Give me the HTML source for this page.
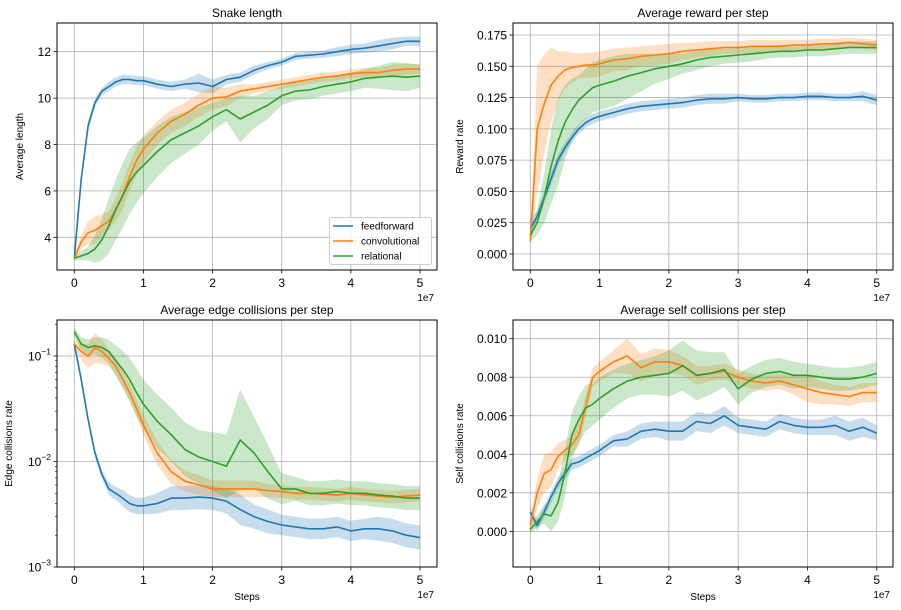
<!DOCTYPE html>
<html><head><meta charset="utf-8"><style>
body{margin:0;background:#fff;}
svg{display:block;font-family:"Liberation Sans","DejaVu Sans",sans-serif;}
</style></head><body>
<svg id="fig" width="901" height="610" viewBox="0 0 901 610"></svg>
<script>
const steps = [0,1,2,3,4,5,6,7,8,9,10,12,14,16,18,20,22,24,26,28,30,32,34,36,38,40,42,44,46,48,50];
const seriesNames = ["feedforward","convolutional","relational"];
const lenFF = [3.1,6.5,8.8,9.8,10.3,10.5,10.7,10.8,10.8,10.75,10.75,10.6,10.5,10.6,10.65,10.5,10.8,10.9,11.2,11.4,11.55,11.8,11.85,11.9,12.0,12.1,12.15,12.25,12.35,12.45,12.45];
const lenFFBand = [0.05,0.2,0.2,0.2,0.15,0.2,0.2,0.2,0.2,0.2,0.2,0.2,0.2,0.2,0.4,0.3,0.2,0.2,0.2,0.15,0.15,0.15,0.15,0.15,0.2,0.2,0.2,0.25,0.25,0.2,0.2];
const lenConv = [3.1,3.8,4.2,4.3,4.5,4.7,5.2,5.8,6.6,7.3,7.8,8.5,9.0,9.3,9.7,10.0,10.05,10.3,10.4,10.5,10.6,10.7,10.8,10.9,10.95,11.05,11.1,11.1,11.2,11.25,11.25];
const lenConvBand = [0.1,0.3,0.5,0.6,0.5,0.4,0.5,0.6,0.6,0.6,0.6,0.5,0.5,0.5,0.5,0.5,0.4,0.3,0.2,0.2,0.2,0.2,0.2,0.2,0.2,0.2,0.2,0.2,0.25,0.25,0.2];
const lenRel = [3.1,3.2,3.3,3.5,3.9,4.5,5.2,5.8,6.4,6.8,7.1,7.7,8.2,8.5,8.8,9.2,9.5,9.1,9.4,9.7,10.1,10.3,10.35,10.5,10.6,10.7,10.85,10.9,10.95,10.9,10.95];
const lenRelBand = [0.1,0.2,0.3,0.6,0.9,1.2,1.3,1.4,1.4,1.3,1.2,1.1,1.0,0.9,0.8,0.6,0.5,1.0,0.7,0.6,0.4,0.4,0.4,0.4,0.4,0.4,0.4,0.5,0.6,0.6,0.5];
const rewFF = [0.02,0.03,0.045,0.06,0.075,0.085,0.093,0.1,0.105,0.108,0.11,0.113,0.116,0.118,0.119,0.12,0.121,0.123,0.124,0.124,0.125,0.124,0.124,0.125,0.125,0.126,0.126,0.125,0.125,0.126,0.123];
const rewFFBand = [0.008,0.005,0.005,0.005,0.005,0.004,0.004,0.004,0.004,0.004,0.004,0.004,0.004,0.004,0.004,0.004,0.004,0.004,0.004,0.004,0.003,0.003,0.003,0.003,0.003,0.003,0.003,0.003,0.003,0.004,0.004];
const rewConv = [0.01,0.1,0.12,0.135,0.142,0.147,0.149,0.15,0.151,0.151,0.152,0.155,0.156,0.158,0.159,0.16,0.162,0.163,0.164,0.165,0.165,0.166,0.166,0.166,0.167,0.167,0.168,0.168,0.169,0.168,0.167];
const rewConvBand = [0.005,0.05,0.04,0.03,0.02,0.015,0.012,0.01,0.01,0.01,0.01,0.009,0.009,0.008,0.008,0.008,0.007,0.006,0.006,0.005,0.005,0.005,0.005,0.005,0.004,0.004,0.004,0.004,0.004,0.004,0.004];
const rewRel = [0.015,0.025,0.045,0.07,0.09,0.105,0.115,0.123,0.128,0.133,0.135,0.138,0.142,0.145,0.148,0.15,0.152,0.155,0.157,0.158,0.159,0.16,0.161,0.162,0.162,0.163,0.163,0.164,0.165,0.165,0.165];
const rewRelBand = [0.005,0.01,0.02,0.03,0.035,0.03,0.025,0.02,0.02,0.02,0.02,0.02,0.018,0.015,0.012,0.01,0.008,0.008,0.007,0.006,0.006,0.006,0.005,0.005,0.005,0.005,0.005,0.005,0.005,0.005,0.005];
const edgeFF = [0.13,0.06,0.025,0.012,0.0075,0.0055,0.005,0.0045,0.004,0.0038,0.0038,0.004,0.0045,0.0045,0.0046,0.0045,0.0042,0.0035,0.003,0.0027,0.0025,0.0024,0.0023,0.0023,0.0024,0.0022,0.0023,0.0023,0.0022,0.002,0.0019];
const edgeFFBand = [1.1,1.1,1.1,1.1,1.1,1.15,1.15,1.2,1.2,1.2,1.2,1.25,1.3,1.3,1.3,1.3,1.3,1.4,1.3,1.3,1.25,1.25,1.25,1.25,1.25,1.25,1.25,1.3,1.3,1.3,1.3];
const edgeConv = [0.13,0.11,0.1,0.12,0.11,0.095,0.08,0.06,0.045,0.032,0.022,0.012,0.008,0.0065,0.006,0.0055,0.0055,0.0055,0.0055,0.0053,0.0052,0.005,0.005,0.0049,0.0048,0.005,0.0048,0.0047,0.0046,0.0047,0.0048];
const edgeConvBand = [1.1,1.2,1.3,1.4,1.3,1.2,1.2,1.2,1.2,1.2,1.25,1.3,1.3,1.25,1.25,1.2,1.2,1.2,1.2,1.15,1.15,1.15,1.15,1.15,1.15,1.15,1.15,1.15,1.15,1.15,1.15];
const edgeRel = [0.17,0.13,0.12,0.125,0.12,0.11,0.09,0.075,0.06,0.045,0.035,0.024,0.018,0.013,0.011,0.01,0.009,0.016,0.012,0.008,0.0055,0.0055,0.005,0.005,0.0052,0.005,0.005,0.0048,0.0047,0.0045,0.0045];
const edgeRelBand = [1.1,1.15,1.2,1.2,1.25,1.3,1.4,1.5,1.6,1.7,1.7,1.8,1.8,1.8,1.8,1.9,2.0,3.0,2.2,1.8,1.4,1.3,1.3,1.3,1.3,1.3,1.3,1.3,1.3,1.3,1.3];
const selfFF = [0.001,0.0003,0.001,0.0018,0.0025,0.003,0.0035,0.0036,0.0038,0.004,0.0042,0.0047,0.0048,0.0052,0.0053,0.0052,0.0052,0.0057,0.0056,0.006,0.0055,0.0054,0.0053,0.0057,0.0055,0.0054,0.0054,0.0055,0.0052,0.0054,0.0051];
const selfFFBand = [0.0003,0.0003,0.0003,0.0003,0.0003,0.0003,0.0003,0.0003,0.0003,0.0003,0.0003,0.0003,0.0004,0.0004,0.0004,0.0005,0.0005,0.0005,0.0005,0.0005,0.0004,0.0004,0.0004,0.0004,0.0004,0.0004,0.0004,0.0005,0.0005,0.0005,0.0004];
const selfConv = [0.0003,0.002,0.003,0.0032,0.0039,0.0042,0.0045,0.005,0.0065,0.008,0.0083,0.0088,0.0091,0.0085,0.0088,0.0088,0.0086,0.0081,0.0082,0.0083,0.008,0.0078,0.0077,0.0078,0.0076,0.0074,0.0072,0.0071,0.007,0.0072,0.0072];
const selfConvBand = [0.0003,0.0008,0.001,0.0009,0.0007,0.0005,0.0005,0.0006,0.0006,0.0005,0.0005,0.0006,0.0009,0.0007,0.0007,0.0006,0.0005,0.0005,0.0004,0.0004,0.0004,0.0004,0.0004,0.0004,0.0005,0.0007,0.0006,0.0005,0.0005,0.0005,0.0005];
const selfRel = [0.0001,0.0005,0.0009,0.0008,0.0015,0.003,0.005,0.0058,0.0064,0.0066,0.0069,0.0074,0.0078,0.008,0.0081,0.0082,0.0086,0.0081,0.0082,0.0084,0.0074,0.0079,0.0082,0.0083,0.0081,0.0081,0.008,0.0079,0.0079,0.008,0.0082];
const selfRelBand = [0.0002,0.0003,0.0005,0.0008,0.001,0.0012,0.0012,0.0012,0.0012,0.0011,0.0011,0.001,0.0009,0.0009,0.001,0.0012,0.0013,0.0013,0.0011,0.0009,0.0008,0.0007,0.0007,0.0007,0.0007,0.0006,0.0006,0.0006,0.0006,0.0006,0.0006];
const xTicks = [0,1,2,3,4,5];
const lenTicks = [4,6,8,10,12];
const rewTicks = [0,0.025,0.05,0.075,0.1,0.125,0.15,0.175];
const edgeTicks = [-3,-2,-1];
const selfTicks = [0,0.002,0.004,0.006,0.008,0.010];

const NS="http://www.w3.org/2000/svg";
const svg=document.getElementById('fig');
const colors=["#1f77b4","#ff7f0e","#2ca02c"];
function mk(tag,attrs,parent){const e=document.createElementNS(NS,tag);for(const k in attrs)e.setAttribute(k,attrs[k]);(parent||svg).appendChild(e);return e;}

function panel(p){
  const g=mk('g',{});
  
  
  const xs=v=>p.x0+(v/50)*(p.x5-p.x0);
  const tr=p.log?(v=>Math.log10(v)):(v=>v);
  const ys=v=>p.b-(tr(v)-p.ymin)/(p.ymax-p.ymin)*(p.b-p.t);
  // grid
  xTicks.forEach(t=>{const X=xs(t*10);
    const l=mk('line',{x1:X,x2:X,y1:p.t,y2:p.b,stroke:'#b0b0b0','stroke-width':0.8},g);
    
    mk('line',{x1:X,x2:X,y1:p.b,y2:p.b+3.5,stroke:'#000','stroke-width':0.8},g);
    const tx=mk('text',{x:X,y:p.b+17,'font-size':12,'text-anchor':'middle'},g);tx.textContent=t;
    
  });
  p.yticks.forEach(t=>{const Y=p.log?p.b-(t-p.ymin)/(p.ymax-p.ymin)*(p.b-p.t):ys(t);
    const l=mk('line',{x1:p.l,x2:p.r,y1:Y,y2:Y,stroke:'#b0b0b0','stroke-width':0.8},g);
    
    mk('line',{x1:p.l-3.5,x2:p.l,y1:Y,y2:Y,stroke:'#000','stroke-width':0.8},g);
    const tx=mk('text',{x:p.l-6,y:Y+4.5,'font-size':12,'text-anchor':'end'},g);
    if(p.log){tx.textContent='10';const s=mk('tspan',{dy:-6,'font-size':8.5},tx);s.textContent='\u2212'+(-t);}
    else tx.textContent=p.fmt(t);
    
  });
  if(p.log){for(let d=-3;d<0;d++)for(let m=2;m<10;m++){const v=Math.log10(m)+d;if(v>p.ymax)continue;
    const Y=p.b-(v-p.ymin)/(p.ymax-p.ymin)*(p.b-p.t);mk('line',{x1:p.l-2,x2:p.l,y1:Y,y2:Y,stroke:'#000','stroke-width':0.6},g);}}
  const clipId='c'+p.name;
  const cp=mk('clipPath',{id:clipId},g);mk('rect',{x:p.l,y:p.t,width:p.r-p.l,height:p.b-p.t},cp);
  const dg=mk('g',{'clip-path':'url(#'+clipId+')'},g);
  p.series.forEach((s,i)=>{
    const lo=s.v.map((v,j)=>p.log?v/s.b[j]:v-s.b[j]);
    const hi=s.v.map((v,j)=>p.log?v*s.b[j]:v+s.b[j]);
    let d='';steps.forEach((x,j)=>{d+=(j?'L':'M')+xs(x).toFixed(1)+','+ys(hi[j]).toFixed(1);});
    for(let j=steps.length-1;j>=0;j--)d+='L'+xs(steps[j]).toFixed(1)+','+ys(lo[j]).toFixed(1);
    const a=mk('path',{d:d+'Z',fill:colors[i],'fill-opacity':0.25,stroke:'none'},dg);
    
  });
  p.series.forEach((s,i)=>{
    const pts=steps.map((x,j)=>xs(x).toFixed(1)+','+ys(s.v[j]).toFixed(1)).join(' ');
    const l=mk('polyline',{points:pts,fill:'none',stroke:colors[i],'stroke-width':1.6,'stroke-linejoin':'round'},dg);
    
  });
  const fr=mk('rect',{x:p.l,y:p.t,width:p.r-p.l,height:p.b-p.t,fill:'none',stroke:'#000','stroke-width':1},g);
  
  const ti=mk('text',{x:(p.l+p.r)/2,y:p.t-6,'font-size':12,'text-anchor':'middle'},g);ti.textContent=p.title;
  
  const yl=mk('text',{x:p.ylx,y:(p.t+p.b)/2,'font-size':10,'text-anchor':'middle',transform:'rotate(-90 '+p.ylx+' '+(p.t+p.b)/2+')'},g);yl.textContent=p.ylabel;
  
  const off=mk('text',{x:p.r-3,y:p.b+31,'font-size':10,'text-anchor':'end'},g);off.textContent='1e7';
  
  if(p.xlabel){const xl=mk('text',{x:(p.l+p.r)/2,y:p.b+33,'font-size':10,'text-anchor':'middle'},g);xl.textContent=p.xlabel;
    }
  return g;
}
panel({name:'snake-length-chart',l:57,r:437,t:23,b:270,x0:74.3,x5:420,ymin:4-(270-237.3)/23.2,ymax:12+(51.7-23)/23.2,yticks:lenTicks,fmt:v=>v,
  title:'Snake length',ylabel:'Average length',ylx:23,
  series:[{v:lenFF,b:lenFFBand},{v:lenConv,b:lenConvBand},{v:lenRel,b:lenRelBand}]});
panel({name:'reward-chart',l:513,r:893,t:23,b:270,x0:530.3,x5:876.7,ymin:-0.0128,ymax:0.1846,yticks:rewTicks,fmt:v=>v.toFixed(3),
  title:'Average reward per step',ylabel:'Reward rate',ylx:463,
  series:[{v:rewFF,b:rewFFBand},{v:rewConv,b:rewConvBand},{v:rewRel,b:rewRelBand}]});
panel({name:'edge-collisions-chart',l:57,r:437,t:320,b:567,x0:74.3,x5:420,log:true,ymin:-3,ymax:-1+(356-320)/105.5,yticks:edgeTicks,
  title:'Average edge collisions per step',ylabel:'Edge collisions rate',ylx:12,xlabel:'Steps',
  series:[{v:edgeFF,b:edgeFFBand},{v:edgeConv,b:edgeConvBand},{v:edgeRel,b:edgeRelBand}]});
panel({name:'self-collisions-chart',l:513,r:893,t:320,b:567,x0:530.3,x5:876.7,ymin:-0.00185,ymax:0.01097,yticks:selfTicks,fmt:v=>v.toFixed(3),
  title:'Average self collisions per step',ylabel:'Self collisions rate',ylx:463,xlabel:'Steps',
  series:[{v:selfFF,b:selfFFBand},{v:selfConv,b:selfConvBand},{v:selfRel,b:selfRelBand}]});
// legend
const lg=mk('g',{});


mk('rect',{x:329.5,y:217.5,width:102,height:47,rx:2,fill:'#fff','fill-opacity':0.85,stroke:'#ccc','stroke-width':1},lg);
seriesNames.forEach((n,i)=>{const Y=226+i*15;
  const e=mk('g',{},lg);
  
  
  mk('line',{x1:333,x2:353,y1:Y,y2:Y,stroke:colors[i],'stroke-width':1.6},e);
  const t=mk('text',{x:361,y:Y+3.5,'font-size':10},e);t.textContent=n;
});
</script>
</body></html>
